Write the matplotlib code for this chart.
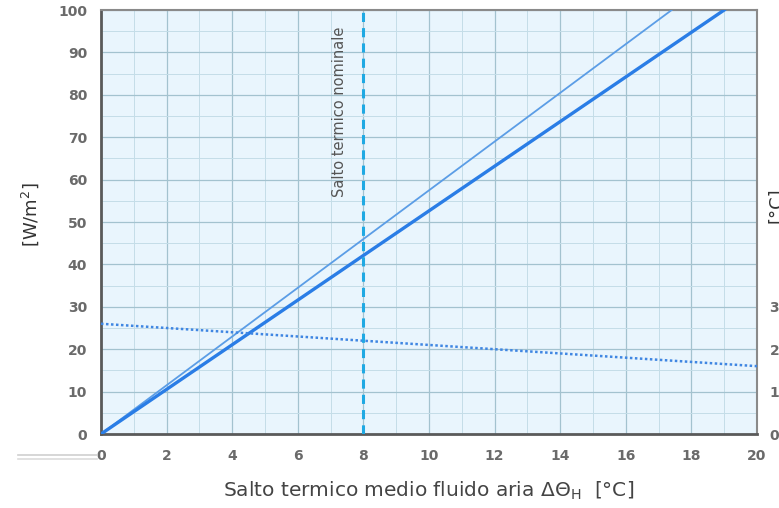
import matplotlib
matplotlib.use("Agg")
import matplotlib.pyplot as plt
from matplotlib.lines import Line2D

# Data
thick_x = [0, 19.0]
thick_y = [0, 100]
thin_x = [0, 17.4]
thin_y = [0, 100]
dot_x = [0, 20]
dot_y = [26, 16]
nominal_x = 8
x_ticks = [0, 2, 4, 6, 8, 10, 12, 14, 16, 18, 20]
y_ticks = [0, 10, 20, 30, 40, 50, 60, 70, 80, 90, 100]
right_ticks = [0, 10, 20, 30]

fig = plt.figure(figsize=(7.79, 5.08), dpi=100)
ax = fig.add_axes([101/779, 1-434/508, (757-101)/779, (434-10)/508])
ax.set_facecolor("#e9f5fd")
ax.set_xlim(0, 20)
ax.set_ylim(0, 100)

ax.set_xticks(x_ticks)
ax.set_yticks(y_ticks)
ax.set_xticks(range(0, 21), minor=True)
ax.set_yticks(range(0, 101, 5), minor=True)
ax.grid(which="major", color="#a3c2cf", lw=0.9)
ax.grid(which="minor", color="#c4dde8", lw=0.7)
ax.set_axisbelow(True)
ax.tick_params(which="both", length=0)
ax.tick_params(axis="x", pad=11)
ax.tick_params(axis="y", pad=10)
for lab in ax.get_xticklabels() + ax.get_yticklabels():
    lab.set_fontweight("bold")
    lab.set_color("#6a6a6a")
    lab.set_fontsize(10)

for s in ["left", "bottom"]:
    ax.spines[s].set_color("#5a5a5a")
    ax.spines[s].set_linewidth(2)
for s in ["top", "right"]:
    ax.spines[s].set_color("#8a8a8a")
    ax.spines[s].set_linewidth(1.5)

ax.plot(thin_x, thin_y, color="#5b9de6", lw=1.3, zorder=3)
ax.plot(thick_x, thick_y, color="#2a7de6", lw=2.4, zorder=3)
ax.plot(dot_x, dot_y, color="#3f86e2", lw=1.8, ls=(0, (1, 1.0)), zorder=3)
ax.axvline(nominal_x, color="#1fa9e3", lw=2.2, ls=(0, (3, 2)), zorder=3)

ax.text(nominal_x - 0.72, 76, "Salto termico nominale", rotation=90,
        ha="center", va="center", fontsize=10.5, color="#555555")

ax.set_xlabel("Salto termico medio fluido aria ΔΘ$_{\\mathrm{H}}$  [°C]",
              fontsize=14.5, color="#444444", labelpad=12)

fig.text(30/779, 1-215/508, "[W/m$^{2}$]", rotation=90, ha="center", va="center",
         fontsize=13, color="#333333")

ax2 = ax.twinx()
ax2.set_ylim(0, 100)
ax2.set_yticks(right_ticks)
ax2.set_yticklabels([str(t) for t in right_ticks])
ax2.tick_params(length=0, pad=9)
for lab in ax2.get_yticklabels():
    lab.set_fontweight("bold")
    lab.set_color("#6a6a6a")
    lab.set_fontsize(10)
for s in ax2.spines.values():
    s.set_visible(False)
fig.text(776/779, 1-205/508, "[°C]", rotation=90, ha="center", va="center",
         fontsize=13, color="#333333")

fig.add_artist(Line2D([18/779, 97/779], [1-455/508, 1-455/508], color="#cfcfcf", lw=1.2))
fig.add_artist(Line2D([18/779, 97/779], [1-459/508, 1-459/508], color="#dcdcdc", lw=1.2))

fig.savefig("out.png", dpi=100)
